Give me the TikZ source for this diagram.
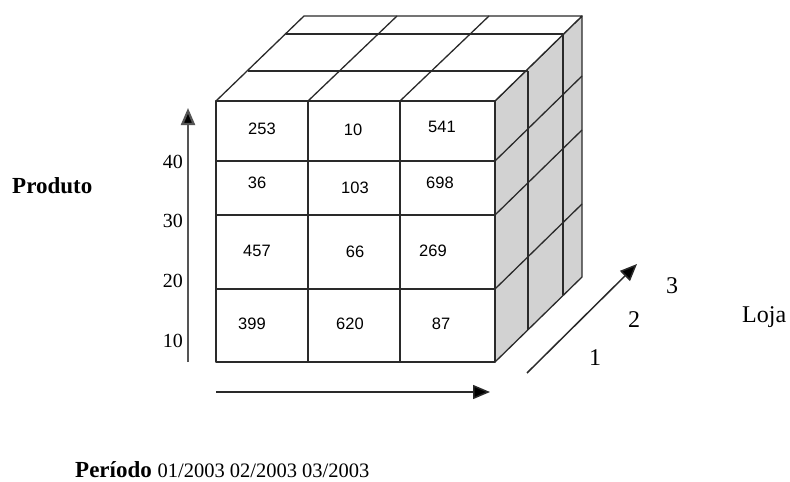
\documentclass[tikz,border=0pt]{standalone}
\usepackage{fontspec}
\setmainfont{Liberation Serif}
\newfontfamily\arialf{Liberation Sans}
\usetikzlibrary{arrows.meta}
\definecolor{edgec}{HTML}{2A2A2A}
\definecolor{sidec}{HTML}{D2D2D2}
\definecolor{axisc}{HTML}{555555}
\tikzset{
  edge/.style={draw=edgec, line width=1.3pt, line join=round},
  cellnum/.style={font=\arialf\fontsize{16.5}{18}\selectfont, inner sep=0pt},
  tick/.style={font=\fontsize{20}{22}\selectfont, inner sep=0pt, anchor=base east},
  dlabel/.style={font=\fontsize{24}{26}\selectfont, inner sep=0pt, anchor=base},
  titlelab/.style={font=\bfseries\fontsize{23}{25}\selectfont, inner sep=0pt, anchor=base west},
  axisarrow/.style={line width=1.5pt, -{Triangle[length=17pt,width=14pt,fill=black]}}
}
\begin{document}
\begin{tikzpicture}[x=1pt,y=-1pt]
\useasboundingbox (0,0) rectangle (790,482);
\fill[white] (0,0) rectangle (790,482);
% right side face
\filldraw[edge, fill=sidec] (495,101) -- (582,16) -- (582,277) -- (495,362) -- cycle;
\draw[edge] (528,71) -- (528,330);
\draw[edge] (563,34) -- (563,295);
\draw[edge] (495,161) -- (582,76);
\draw[edge] (495,215) -- (582,130);
\draw[edge] (495,289) -- (582,204);
% top face
\filldraw[edge, fill=white] (216,101) -- (495,101) -- (582,16) -- (304,16) -- cycle;
\draw[edge] (248,71) -- (528,71);
\draw[edge] (286,34) -- (563,34);
\draw[edge] (308,101) -- (397,16);
\draw[edge] (400,101) -- (489,16);
% front face
\filldraw[edge, fill=white] (216,101) rectangle (495,362);
\draw[edge] (308,101) -- (308,362);
\draw[edge] (400,101) -- (400,362);
\draw[edge] (216,161) -- (495,161);
\draw[edge] (216,215) -- (495,215);
\draw[edge] (216,289) -- (495,289);
% cell values
\node[cellnum] (c11) at (262,129) {253};
\node[cellnum] (c12) at (353,130) {10};
\node[cellnum] (c13) at (442,127) {541};
\node[cellnum] (c21) at (257,183) {36};
\node[cellnum] (c22) at (355,188) {103};
\node[cellnum] (c23) at (440,183) {698};
\node[cellnum] (c31) at (257,251) {457};
\node[cellnum] (c32) at (355,252) {66};
\node[cellnum] (c33) at (433,251) {269};
\node[cellnum] (c41) at (252,324) {399};
\node[cellnum] (c42) at (350,324) {620};
\node[cellnum] (c43) at (441,324) {87};
% axes
\coordinate (vS) at (188,362);
\coordinate (vE) at (188,108);
\draw[axisarrow, draw=axisc, line width=2.2pt] (vS) -- (vE);
\coordinate (hS) at (216,392);
\coordinate (hE) at (490,392);
\draw[axisarrow, draw=edgec] (hS) -- (hE);
\coordinate (dS) at (527,373);
\coordinate (dE) at (637,264);
\draw[axisarrow, draw=edgec] (dS) -- (dE);
% labels
\node[titlelab] (prod) at (12,193) {Produto};
\node[tick] (t40) at (183,168) {40};
\node[tick] (t30) at (183,227) {30};
\node[tick] (t20) at (183,287) {20};
\node[tick] (t10) at (183,347) {10};
\node[dlabel] (l3) at (672,293) {3};
\node[dlabel] (l2) at (634,327) {2};
\node[dlabel] (l1) at (595,365) {1};
\node[dlabel, anchor=base west] (loja) at (742,322) {Loja};
\node[titlelab] (per) at (75,477) {Período \fontseries{m}\fontsize{20.5}{22}\selectfont 01/2003 02/2003 03/2003};
\end{tikzpicture}
\end{document}
